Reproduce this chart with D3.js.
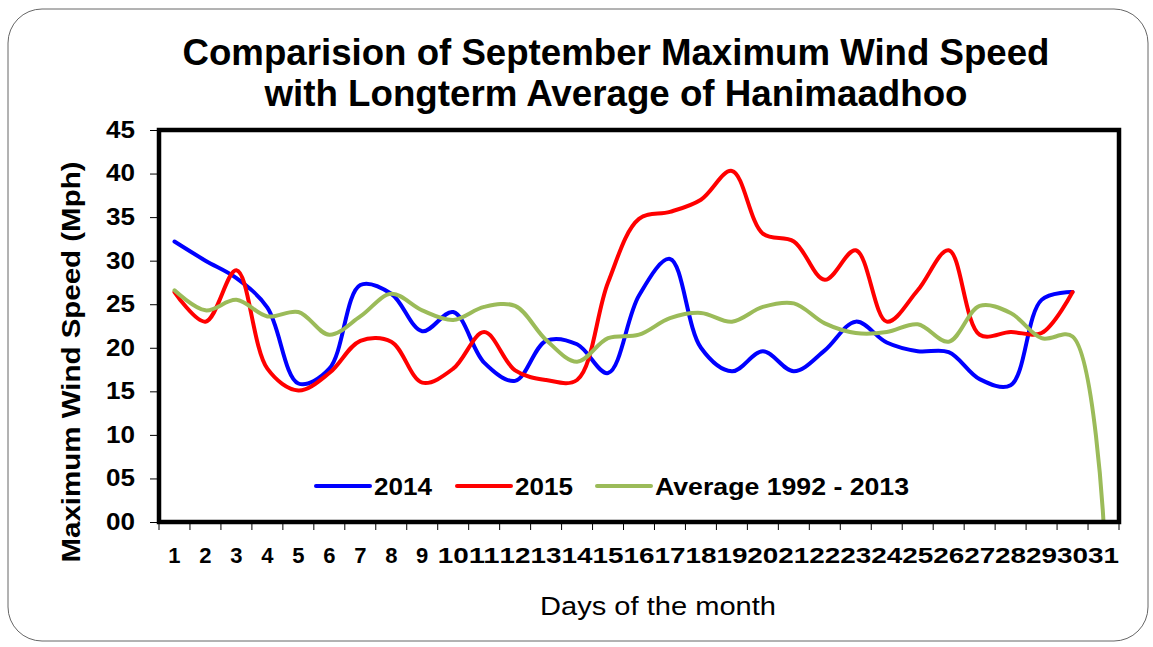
<!DOCTYPE html>
<html>
<head>
<meta charset="utf-8">
<script src="https://cdn.jsdelivr.net/npm/d3@7"></script>
<style>
  body { margin: 0; background: #fff; }
  svg { display: block; font-family: "Liberation Sans", Arial, sans-serif; }
</style>
</head>
<body>
<div id="chart"></div>
<script>
// Days of September
const days = d3.range(1, 32);

// Maximum wind speed (Mph)
const y2014 = [32.2, 30.0, 28.0, 24.6, 15.9, 17.6, 27.2, 26.2, 21.9, 24.1, 18.3, 16.2, 20.8, 20.4, 17.1, 26.0, 30.2, 20.0, 17.3, 19.6, 17.3, 19.7, 23.0, 20.6, 19.6, 19.5, 16.4, 15.7, 25.5, 26.4];
const y2015 = [26.4, 23.0, 28.9, 17.6, 15.1, 17.1, 20.8, 20.7, 16.0, 17.6, 21.8, 17.4, 16.3, 16.3, 27.5, 34.8, 35.6, 37.0, 40.3, 33.1, 32.2, 27.8, 31.2, 23.0, 26.6, 31.2, 21.5, 21.8, 21.7, 26.4];
const avg = [26.6, 24.3, 25.5, 23.6, 24.1, 21.5, 23.6, 26.2, 24.3, 23.2, 24.7, 24.8, 20.9, 18.4, 21.1, 21.5, 23.4, 24.0, 23.0, 24.7, 25.1, 22.8, 21.7, 21.8, 22.7, 20.7, 24.8, 24.0, 21.1, 21.3, 0];

const yTicks = [0, 5, 10, 15, 20, 25, 30, 35, 40, 45];

const series = [
  { name: "2014", values: y2014, color: "#0000ff" },
  { name: "2015", values: y2015, color: "#ff0000" },
  { name: "Average 1992 - 2013", values: avg, color: "#9bbb59" },
];

const width = 1153;
const height = 647;
const margin = { top: 130, right: 34, bottom: 125, left: 159 };

const svg = d3.select("#chart").append("svg")
  .attr("width", width)
  .attr("height", height);

// rounded slide border
svg.append("rect")
  .attr("x", 8).attr("y", 9)
  .attr("width", 1140).attr("height", 632)
  .attr("rx", 34)
  .attr("fill", "none")
  .attr("stroke", "#666")
  .attr("stroke-width", 1);

const x = d3.scaleBand()
  .domain(days)
  .range([margin.left, width - margin.right]);

const y = d3.scaleLinear()
  .domain([0, 45])
  .range([height - margin.bottom, margin.top]);

// title
svg.append("text")
  .attr("x", 616).attr("y", 65)
  .attr("text-anchor", "middle")
  .attr("font-size", 37).attr("font-weight", "bold")
  .attr("textLength", 867).attr("lengthAdjust", "spacingAndGlyphs")
  .text("Comparision of September Maximum Wind Speed");
svg.append("text")
  .attr("x", 616).attr("y", 106)
  .attr("text-anchor", "middle")
  .attr("font-size", 37).attr("font-weight", "bold")
  .attr("textLength", 703).attr("lengthAdjust", "spacingAndGlyphs")
  .text("with Longterm Average of Hanimaadhoo");

// y axis
const yAxis = svg.append("g")
  .attr("transform", `translate(${margin.left - 2},0)`)
  .call(d3.axisLeft(y).tickValues(yTicks).tickSize(7).tickSizeOuter(0)
    .tickFormat(d3.format("02d")));
yAxis.select(".domain").remove();
yAxis.selectAll("text")
  .attr("font-size", 23).attr("font-weight", "bold")
  .attr("font-family", "Liberation Sans, Arial, sans-serif")
  .attr("x", -22).attr("fill", "#000")
  .attr("textLength", 29).attr("lengthAdjust", "spacingAndGlyphs");

// x axis
const xTickPos = d3.range(0, 32).map((i) => margin.left + i * x.step());
svg.append("g")
  .selectAll("line")
  .data(xTickPos)
  .join("line")
  .attr("x1", (d) => d).attr("x2", (d) => d)
  .attr("y1", height - margin.bottom)
  .attr("y2", height - margin.bottom + 8)
  .attr("stroke", "#000");

svg.append("g")
  .selectAll("text")
  .data(days)
  .join("text")
  .attr("x", (d) => x(d) + x.bandwidth() / 2)
  .attr("y", 563)
  .attr("text-anchor", "middle")
  .attr("font-size", 22).attr("font-weight", "bold")
  .attr("textLength", (d) => (d >= 10 ? 31 : null))
  .attr("lengthAdjust", "spacingAndGlyphs")
  .text((d) => d);

// axis titles
svg.append("text")
  .attr("transform", "translate(80,362) rotate(-90)")
  .attr("text-anchor", "middle")
  .attr("font-size", 26).attr("font-weight", "bold")
  .attr("textLength", 401).attr("lengthAdjust", "spacingAndGlyphs")
  .text("Maximum Wind Speed (Mph)");

svg.append("text")
  .attr("x", 658).attr("y", 615)
  .attr("text-anchor", "middle")
  .attr("font-size", 26)
  .attr("textLength", 236).attr("lengthAdjust", "spacingAndGlyphs")
  .text("Days of the month");

// lines
const line = d3.line()
  .x((d, i) => x(days[i]) + x.bandwidth() / 2)
  .y((d) => y(d))
  .curve(d3.curveCatmullRom.alpha(0.5));

svg.append("g")
  .selectAll("path")
  .data(series)
  .join("path")
  .attr("fill", "none")
  .attr("stroke", (d) => d.color)
  .attr("stroke-width", 4)
  .attr("stroke-linecap", "round")
  .attr("d", (d) => line(d.values));

// plot frame
svg.append("rect")
  .attr("x", margin.left).attr("y", margin.top)
  .attr("width", width - margin.left - margin.right)
  .attr("height", height - margin.top - margin.bottom)
  .attr("fill", "none")
  .attr("stroke", "#000")
  .attr("stroke-width", 4.5);

// legend
const legendX = [316, 457, 597];
const legendTextLen = [58, 58, 254];
const legend = svg.append("g")
  .selectAll("g")
  .data(series)
  .join("g")
  .attr("transform", (d, i) => `translate(${legendX[i]},486)`);
legend.append("line")
  .attr("x1", 0).attr("x2", 54)
  .attr("stroke", (d) => d.color)
  .attr("stroke-width", 4)
  .attr("stroke-linecap", "round");
legend.append("text")
  .attr("x", 58).attr("dy", "0.36em")
  .attr("font-size", 24).attr("font-weight", "bold")
  .attr("textLength", (d, i) => legendTextLen[i])
  .attr("lengthAdjust", "spacingAndGlyphs")
  .text((d) => d.name);
</script>
</body>
</html>
